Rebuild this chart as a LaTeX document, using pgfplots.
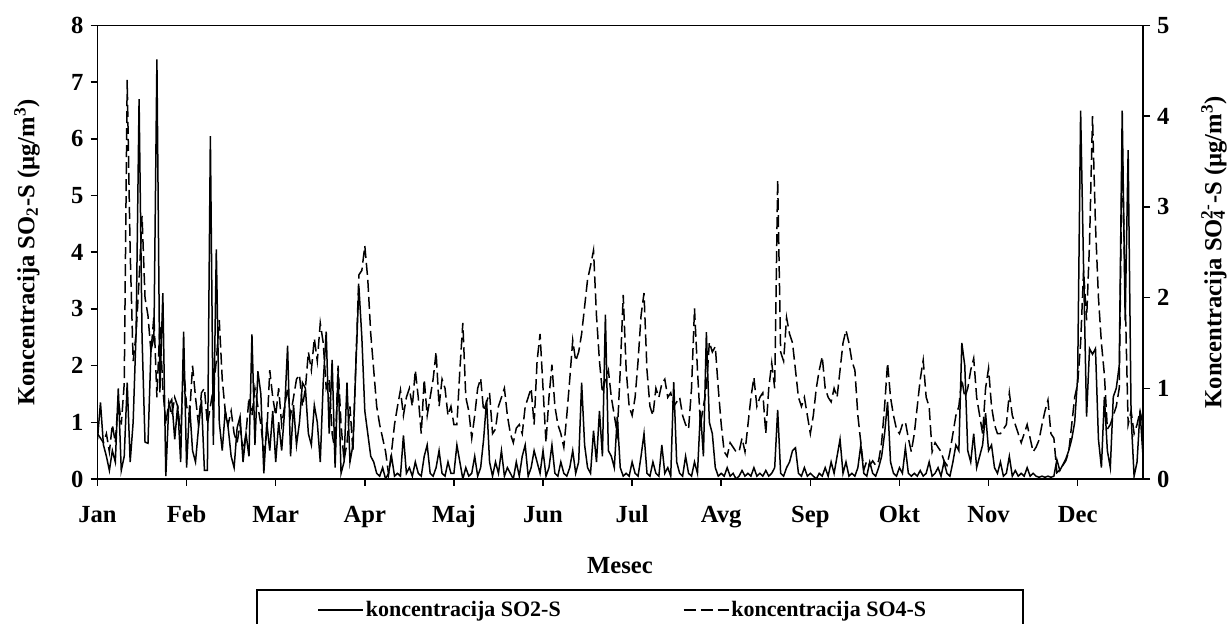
\documentclass[border=0pt]{standalone}
\usepackage{fontspec}
\setmainfont{Liberation Serif}
\usepackage{pgfplots}
\pgfplotsset{compat=1.18}
\usepackage{pgfplotstable}

% daily values: i = day index, a = SO2-S (left axis), b = SO4-S (right axis)
\pgfplotstableread{
i a b
0 0.7 0.5
1 1.35 0.45
2 0.6 0.4
3 0.4 0.5
4 0.15 0.3
5 0.5 0.6
6 0.3 0.4
7 1.6 0.9
8 0.15 0.6
9 0.4 1.05
10 1.7 4.4
11 0.3 2.5
12 1.0 1.3
13 2.6 1.6
14 6.7 2.2
15 2.5 2.9
16 0.65 2.0
17 0.63 1.8
18 2.27 1.4
19 2.5 1.8
20 7.4 0.9
21 1.53 1.7
22 3.28 1.0
23 0.05 0.6
24 1.3 0.85
25 1.4 0.7
26 0.7 0.9
27 1.3 0.8
28 0.3 0.5
29 2.6 1.25
30 0.2 0.8
31 1.3 0.7
32 0.5 1.25
33 0.3 0.9
34 0.9 0.6
35 1.4 0.95
36 0.15 1.0
37 0.15 0.6
38 6.05 0.8
39 0.6 1.0
40 4.05 1.3
41 1.0 1.75
42 0.5 1.1
43 1.2 0.75
44 0.9 0.6
45 0.4 0.75
46 0.2 0.5
47 0.9 0.4
48 1.1 0.6
49 0.3 0.3
50 0.8 0.5
51 0.4 0.9
52 2.55 0.7
53 0.6 1.0
54 1.9 0.8
55 1.5 0.6
56 0.1 0.3
57 1.0 0.5
58 0.5 1.2
59 1.2 0.9
60 0.3 0.7
61 1.0 1.0
62 0.5 0.6
63 1.2 0.8
64 2.35 1.0
65 0.4 0.7
66 1.3 0.9
67 0.6 1.1
68 1.0 1.15
69 1.7 0.8
70 1.6 1.0
71 0.8 1.4
72 0.6 1.2
73 1.3 1.55
74 1.0 1.3
75 0.3 1.72
76 1.7 1.5
77 2.6 1.0
78 0.8 1.1
79 2.1 0.5
80 0.2 0.3
81 1.9 1.25
82 0.1 0.6
83 0.3 0.2
84 1.7 0.4
85 0.3 0.8
86 0.6 0.3
87 2.0 1.3
88 3.4 2.25
89 2.5 2.3
90 1.2 2.57
91 0.8 2.2
92 0.4 1.6
93 0.3 1.2
94 0.1 0.8
95 0.05 0.6
96 0.2 0.45
97 0.0 0.3
98 0.1 0.05
99 0.4 0.3
100 0.05 0.6
101 0.1 0.8
102 0.05 0.98
103 0.77 0.7
104 0.1 0.9
105 0.2 1.0
106 0.05 0.8
107 0.3 1.2
108 0.1 0.9
109 0.05 0.5
110 0.4 1.1
111 0.6 0.7
112 0.1 0.9
113 0.05 1.1
114 0.2 1.4
115 0.5 0.8
116 0.1 1.1
117 0.05 1.0
118 0.3 0.7
119 0.1 0.8
120 0.1 0.6
121 0.6 0.6
122 0.3 1.2
123 0.0 1.72
124 0.2 0.9
125 0.05 0.75
126 0.1 0.45
127 0.4 0.7
128 0.05 1.0
129 0.2 1.11
130 0.7 0.75
131 1.39 0.85
132 0.3 0.95
133 0.05 0.5
134 0.3 0.55
135 0.1 0.8
136 0.5 0.9
137 0.05 1.0
138 0.2 0.7
139 0.1 0.5
140 0.0 0.4
141 0.3 0.56
142 0.05 0.6
143 0.4 0.5
144 0.6 0.8
145 0.05 0.9
146 0.2 1.0
147 0.5 0.6
148 0.3 1.3
149 0.1 1.6
150 0.5 1.0
151 0.05 0.4
152 0.2 0.9
153 0.6 1.26
154 0.1 0.8
155 0.05 0.6
156 0.3 0.5
157 0.1 0.35
158 0.05 0.7
159 0.2 1.1
160 0.5 1.53
161 0.1 1.3
162 0.3 1.4
163 1.7 1.6
164 0.6 1.9
165 0.2 2.2
166 0.1 2.35
167 0.85 2.52
168 0.3 1.8
169 1.2 1.3
170 0.4 0.95
171 2.9 1.1
172 0.5 1.2
173 0.4 0.9
174 0.2 0.7
175 1.1 0.5
176 0.2 1.2
177 0.05 2.03
178 0.1 1.2
179 0.05 0.8
180 0.3 0.7
181 0.1 0.9
182 0.05 1.3
183 0.4 1.8
184 0.8 2.05
185 0.1 1.2
186 0.05 0.8
187 0.3 0.7
188 0.1 1.0
189 0.05 0.9
190 0.6 1.05
191 0.1 1.1
192 0.2 0.9
193 0.05 0.95
194 1.71 0.8
195 0.3 0.85
196 0.1 0.9
197 0.05 0.7
198 0.4 0.6
199 0.1 0.55
200 0.05 1.0
201 0.3 1.88
202 0.1 1.2
203 1.2 0.6
204 0.4 0.8
205 2.59 1.0
206 1.0 1.51
207 0.8 1.4
208 0.2 1.46
209 0.05 1.0
210 0.1 0.6
211 0.05 0.3
212 0.2 0.25
213 0.05 0.4
214 0.1 0.35
215 0.0 0.3
216 0.05 0.3
217 0.15 0.45
218 0.05 0.3
219 0.1 0.6
220 0.05 0.9
221 0.2 1.12
222 0.05 0.8
223 0.1 0.9
224 0.05 0.95
225 0.15 0.5
226 0.05 1.0
227 0.1 1.28
228 0.2 1.0
229 1.22 3.3
230 0.1 1.4
231 0.05 1.3
232 0.2 1.78
233 0.3 1.6
234 0.5 1.5
235 0.55 1.2
236 0.1 0.9
237 0.05 0.8
238 0.2 0.9
239 0.05 0.7
240 0.1 0.5
241 0.05 0.7
242 0.0 1.0
243 0.1 1.2
244 0.05 1.35
245 0.2 1.0
246 0.05 0.9
247 0.3 0.85
248 0.1 1.0
249 0.4 0.9
250 0.7 1.2
251 0.1 1.5
252 0.3 1.64
253 0.05 1.5
254 0.1 1.3
255 0.05 1.2
256 0.2 0.7
257 0.6 0.4
258 0.1 0.1
259 0.05 0.2
260 0.3 0.15
261 0.1 0.2
262 0.05 0.15
263 0.2 0.2
264 0.4 0.4
265 0.8 0.8
266 1.36 1.28
267 0.3 0.9
268 0.1 0.7
269 0.05 0.55
270 0.2 0.5
271 0.1 0.6
272 0.55 0.63
273 0.1 0.45
274 0.05 0.3
275 0.1 0.5
276 0.05 0.8
277 0.15 1.1
278 0.05 1.31
279 0.1 0.9
280 0.3 0.8
281 0.05 0.3
282 0.1 0.4
283 0.2 0.35
284 0.05 0.3
285 0.3 0.2
286 0.1 0.15
287 0.05 0.3
288 0.3 0.5
289 0.6 0.7
290 0.5 0.8
291 2.4 1.1
292 2.0 0.9
293 0.5 1.0
294 0.3 1.2
295 0.8 1.33
296 0.2 0.9
297 0.4 0.7
298 0.6 0.5
299 1.16 1.0
300 0.5 1.22
301 0.6 0.8
302 0.2 0.6
303 0.1 0.5
304 0.3 0.5
305 0.05 0.55
306 0.1 0.6
307 0.4 0.95
308 0.05 0.7
309 0.15 0.6
310 0.05 0.5
311 0.1 0.4
312 0.05 0.5
313 0.2 0.6
314 0.05 0.45
315 0.1 0.3
316 0.05 0.35
317 0.03 0.43
318 0.05 0.6
319 0.03 0.75
320 0.05 0.87
321 0.03 0.5
322 0.05 0.45
323 0.34 0.07
324 0.15 0.1
325 0.25 0.15
326 0.35 0.2
327 0.5 0.3
328 0.7 0.6
329 1.0 0.9
330 1.8 1.05
331 6.5 1.5
332 3.7 2.3
333 1.1 1.75
334 2.3 2.6
335 2.2 4.0
336 2.3 2.8
337 0.7 2.0
338 0.2 1.5
339 1.45 1.15
340 0.5 0.55
341 0.2 0.6
342 1.45 0.7
343 1.6 0.8
344 2.0 1.0
345 6.5 3.7
346 2.8 2.0
347 5.8 0.6
348 1.1 0.75
349 0.05 0.5
350 0.3 0.6
351 1.2 0.75
352 0.4 0.6
}\sdata

\newcommand{\lbl}{\fontsize{12.3}{14}\selectfont\bfseries}
\newcommand{\lgd}{\fontsize{11}{13}\selectfont\bfseries}

\begin{document}
\begin{tikzpicture}
\useasboundingbox (0pt,0pt) rectangle (614pt,312pt);
\pgfplotsset{
  base/.style={
    at={(48.75pt,72.5pt)}, anchor=south west,
    scale only axis, width=522.75pt, height=226.75pt,
    xmin=0, xmax=352,
    tick align=outside, major tick length=3.5pt,
    every tick/.style={black, line width=0.75pt},
    axis line style={line width=0.75pt},
    ticklabel style={font=\lbl},
    /pgf/number format/assume math mode=true,
  },
}
\begin{axis}[base,
  ymin=0, ymax=8, ytick={0,...,8}, ytick pos=left,
  xtick={0,30,...,330}, xtick pos=left,
  xticklabels={Jan,Feb,Mar,Apr,Maj,Jun,Jul,Avg,Sep,Okt,Nov,Dec},
  xticklabel style={anchor=north, text height=8.5pt, text depth=0pt, yshift=-6pt},
]
\addplot[black, line width=0.75pt] table[x=i, y=a] {\sdata};
\end{axis}
\begin{axis}[base,
  ymin=0, ymax=5, ytick={0,...,5},
  axis y line*=right, axis x line=none,
  legend columns=2,
  legend style={at={(0.2099,-0.2889)}, anchor=west, draw=none, fill=none,
    inner xsep=0pt, inner ysep=0pt, font=\lgd,
    nodes={inner sep=1pt},
    /tikz/every even column/.append style={column sep=60pt}},
  legend image code/.code={\draw[#1, line width=0.75pt] (0pt,0pt) -- (22.5pt,0pt);},
]
\addlegendimage{black, solid}
\addlegendentry{koncentracija SO2-S}
\addplot[black, line width=0.75pt, dash pattern=on 6pt off 2.5pt] table[x=i, y=b] {\sdata};
\addlegendentry{koncentracija SO4-S}
\end{axis}
% legend frame (its lower edge lies below the picture, as in the chart)
\draw[line width=0.75pt] (128.5pt,-3pt) -- (128.5pt,17pt) -- (511.5pt,17pt) -- (511.5pt,-3pt);
\node[rotate=90, font=\lbl] at (13.5pt,185.9pt)
  {Koncentracija SO\textsubscript{2}-S (µg/m\textsuperscript{3})};
\node[rotate=90, font=\lbl] at (607pt,185.9pt)
  {Koncentracija SO\rlap{\textsubscript{4}}\textsuperscript{2-}-S (µg/m\textsuperscript{3})};
\node[font=\lbl] at (310pt,29pt) {Mesec};
\end{tikzpicture}
\end{document}
